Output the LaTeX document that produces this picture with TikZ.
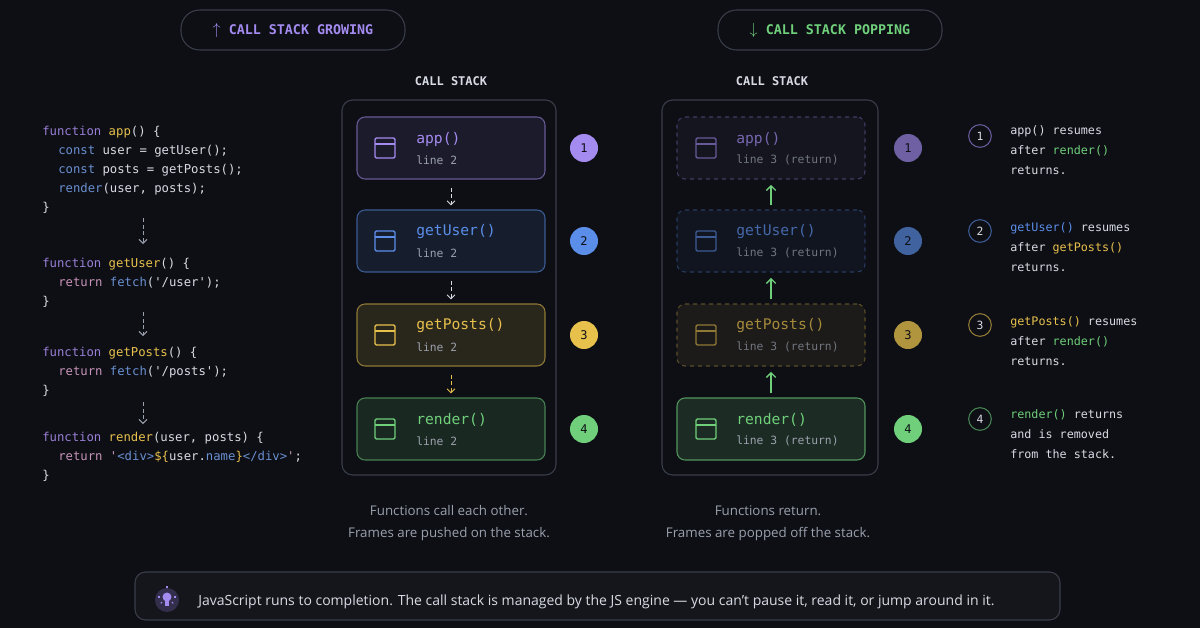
\documentclass[tikz,border=0pt]{standalone}
\usepackage{fontspec}
\setmainfont{Open Sans}
\setmonofont{DejaVu Sans Mono}
\usetikzlibrary{arrows.meta}
\definecolor{bg}{HTML}{0D0F15}
\definecolor{pur}{HTML}{A48BF0}
\definecolor{blu}{HTML}{5B8EE8}
\definecolor{yel}{HTML}{E8C04C}
\definecolor{grn}{HTML}{6FCF7A}
\definecolor{txt}{HTML}{D8DBE3}
\definecolor{dim}{HTML}{9AA0AC}
\definecolor{kw}{HTML}{9A7FD6}
\definecolor{kc}{HTML}{6A8FD0}
\definecolor{kr}{HTML}{C793B8}
\definecolor{edge}{HTML}{3A3E48}
\tikzset{
 x=0.75pt,y=-0.75pt,
 code/.style={anchor=west,inner sep=0,font=\ttfamily\fontsize{9.2}{11}\selectfont,text=txt},
 pill/.style={draw=edge,fill=bg,rounded corners=14pt,line width=0.8pt,minimum width=168pt,minimum height=30pt,font=\ttfamily\bfseries\fontsize{10}{11}\selectfont},
 cont/.style={draw=edge,rounded corners=8pt,line width=0.8pt},
 frm/.style={rounded corners=6pt,line width=0.8pt,minimum width=141pt,minimum height=46.5pt},
 badge/.style={circle,minimum size=21pt,inner sep=0,font=\ttfamily\fontsize{9}{10}\selectfont,text=bg},
 sbadge/.style={circle,draw,line width=0.8pt,minimum size=17pt,inner sep=0,font=\ttfamily\fontsize{8.5}{10}\selectfont,text=txt},
 ann/.style={anchor=north west,inner sep=0,align=left,font=\ttfamily\fontsize{8.8}{15}\selectfont,text=txt},
 capt/.style={font=\fontsize{10}{12}\selectfont,text=dim},
 darr/.style={-{Straight Barb[length=3pt,width=6pt]},densely dashed,line width=0.7pt,shorten <=6pt,shorten >=3pt},
 uarr/.style={-{Straight Barb[length=3.5pt,width=7pt]},line width=1pt,draw=grn,shorten <=3pt,shorten >=4pt},
}
\newcommand{\ficon}[3]{% x y color
 \draw[#3,line width=1pt,rounded corners=1pt] (#1-10,#2-10) rectangle (#1+10,#2+10);
 \draw[#3,line width=1pt] (#1-10,#2-4) -- (#1+10,#2-4);}
\begin{document}
\begin{tikzpicture}
\fill[bg] (0,0) rectangle (1200,628);
\useasboundingbox (0,0) rectangle (1200,628);
% pills
\node[pill,text=pur] (p1) at (293,30) {\textnormal{\large$\uparrow$}\ CALL STACK GROWING};
\node[pill,text=grn] (p2) at (830,30) {\textnormal{\large$\downarrow$}\ CALL STACK POPPING};
\node[font=\ttfamily\bfseries\fontsize{9}{10}\selectfont,text=txt] (h1) at (451,81) {CALL STACK};
\node[font=\ttfamily\bfseries\fontsize{9}{10}\selectfont,text=txt] (h2) at (772,81) {CALL STACK};
% code
\node[code] (c1) at (42,132) {\textcolor{kw}{function} \textcolor{yel}{app}() \{};
\node[code] (c2) at (58,151) {\textcolor{kc}{const} user = getUser();};
\node[code] (c3) at (58,170) {\textcolor{kc}{const} posts = getPosts();};
\node[code] (c4) at (58,189) {\textcolor{kc}{render}(user, posts);};
\node[code] (c5) at (42,208) {\}};
\node[code] (g1) at (42,264) {\textcolor{kw}{function} \textcolor{yel}{getUser}() \{};
\node[code] (g2) at (58,283) {\textcolor{kr}{return} \textcolor{kc}{fetch}('/user');};
\node[code] (g3) at (42,302) {\}};
\node[code] (q1) at (42,353) {\textcolor{kw}{function} \textcolor{yel}{getPosts}() \{};
\node[code] (q2) at (58,372) {\textcolor{kr}{return} \textcolor{kc}{fetch}('/posts');};
\node[code] (q3) at (42,391) {\}};
\node[code] (r1) at (42,438) {\textcolor{kw}{function} \textcolor{yel}{render}(user, posts) \{};
\node[code] (r2) at (58,457) {\textcolor{kr}{return} \textcolor{kr}{'}\textcolor{kc}{<div>}\textcolor{yel}{\$\{}user.\textcolor{kc}{name}\textcolor{yel}{\}}\textcolor{kc}{</div>}\textcolor{kr}{'};};
\node[code] (r3) at (42,476) {\}};
\coordinate (a1s) at (143,210); \coordinate (a1e) at (143,248);
\coordinate (a2s) at (143,304); \coordinate (a2e) at (143,340);
\coordinate (a3s) at (143,394); \coordinate (a3e) at (143,428);
\draw[darr,draw=dim] (a1s) -- (a1e);
\draw[darr,draw=dim] (a2s) -- (a2e);
\draw[darr,draw=dim] (a3s) -- (a3e);
% left stack
\draw[cont] (342,100) rectangle (556,475);
\foreach \n/\y/\c/\t/\o in {la/148/pur/app()/10, lb/241/blu/getUser()/12, lc/335/yel/getPosts()/13, ld/429/grn/render()/13}{
 \node[frm,draw=\c!60!bg,fill=\c!\o!bg] (\n) at (451,\y) {};
 \ficon{385}{\y}{\c}
 \node[anchor=west,inner sep=0,font=\ttfamily\fontsize{11}{12}\selectfont,text=\c] at (416,\y-9) {\t};
 \node[anchor=west,inner sep=0,font=\ttfamily\fontsize{8.5}{10}\selectfont,text=dim] at (416,\y+12) {line 2};
}
\draw[darr,draw=txt] (la.south) -- (lb.north);
\draw[darr,draw=txt] (lb.south) -- (lc.north);
\draw[darr,draw=yel] (lc.south) -- (ld.north);
\node[badge,fill=pur] (b1) at (584,148) {1};
\node[badge,fill=blu] (b2) at (584,241) {2};
\node[badge,fill=yel] (b3) at (584,335) {3};
\node[badge,fill=grn] (b4) at (584,429) {4};
% right stack
\draw[cont] (662,100) rectangle (878,475);
\foreach \n/\y/\c/\t/\o in {ra/148/pur/app()/5, rb/241/blu/getUser()/5, rc/335/yel/getPosts()/7}{
 \node[frm,draw=\c!35!bg,fill=\c!\o!bg,dashed] (\n) at (771,\y) {};
 \ficon{706}{\y}{\c!60!bg}
 \node[anchor=west,inner sep=0,font=\ttfamily\fontsize{11}{12}\selectfont,text=\c!70!bg] at (736,\y-9) {\t};
 \node[anchor=west,inner sep=0,font=\ttfamily\fontsize{8.5}{10}\selectfont,text=dim!70!bg] at (736,\y+12) {line 3 (return)};
}
\node[frm,draw=grn!70!bg,fill=grn!15!bg] (rd) at (771,429) {};
\ficon{706}{429}{grn}
\node[anchor=west,inner sep=0,font=\ttfamily\fontsize{11}{12}\selectfont,text=grn] at (736,420) {render()};
\node[anchor=west,inner sep=0,font=\ttfamily\fontsize{8.5}{10}\selectfont,text=dim] at (736,441) {line 3 (return)};
\draw[uarr] (rb.north) -- (ra.south);
\draw[uarr] (rc.north) -- (rb.south);
\draw[uarr] (rd.north) -- (rc.south);
\node[badge,fill=pur!65!bg] (e1) at (908,148) {1};
\node[badge,fill=blu!65!bg] (e2) at (908,241) {2};
\node[badge,fill=yel!75!bg] (e3) at (908,335) {3};
\node[badge,fill=grn] (e4) at (908,429) {4};
% annotations
\node[sbadge,draw=pur!60!bg] (s1) at (980,136) {1};
\node[sbadge,draw=blu!60!bg] (s2) at (980,231) {2};
\node[sbadge,draw=yel!60!bg] (s3) at (980,325) {3};
\node[sbadge,draw=grn!60!bg] (s4) at (980,419) {4};
\node[ann] (t1) at (1010,125) {app() resumes\\after \textcolor{grn}{render()}\\returns.};
\node[ann] (t2) at (1010,222) {\textcolor{blu}{getUser()} resumes\\after \textcolor{yel}{getPosts()}\\returns.};
\node[ann] (t3) at (1010,316) {\textcolor{yel}{getPosts()} resumes\\after \textcolor{grn}{render()}\\returns.};
\node[ann] (t4) at (1010,409) {\textcolor{grn}{render()} returns\\and is removed\\from the stack.};
% captions
\node[capt] (k1) at (449,511) {Functions call each other.};
\node[capt] (k2) at (449,534) {Frames are pushed on the stack.};
\node[capt] (k3) at (768,511) {Functions return.};
\node[capt] (k4) at (768,534) {Frames are popped off the stack.};
% bottom bar
\draw[draw=edge,fill=white!3!bg,rounded corners=8pt,line width=0.8pt] (135,572) rectangle (1060,620);
\fill[pur!25!bg] (167,600) circle (12);
\fill[pur] (167,597) circle (4.5);
\fill[pur] (165,601) rectangle (169,606);
\foreach \a in {0,45,135,180}{\draw[pur,line width=0.8pt] (167,597) ++(\a:7) -- ++(\a:2);}
\draw[pur,line width=0.8pt] (167,588) -- (167,586);
\node[anchor=west,inner sep=0,font=\fontsize{10.5}{12}\selectfont,text=txt] (bt) at (198,602) {JavaScript runs to completion. The call stack is managed by the JS engine — you can't pause it, read it, or jump around in it.};
\end{tikzpicture}
\end{document}
